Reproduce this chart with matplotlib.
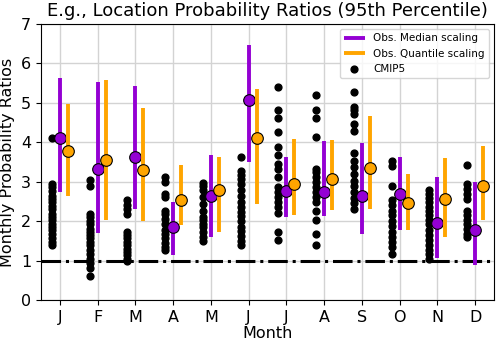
import numpy as np
import matplotlib
matplotlib.use('Agg')
import matplotlib.pyplot as plt

# month labels
months = ['J', 'F', 'M', 'A', 'M', 'J', 'J', 'A', 'S', 'O', 'N', 'D']

# CMIP5 model ratios, one list per month
cmip_jan = [4.12, 2.95, 2.86, 2.76, 2.65, 2.57, 2.48, 2.38, 2.30, 2.19, 2.10, 2.02, 1.94, 1.85, 1.77, 1.68, 1.56, 1.47, 1.39]
cmip_feb = [3.05, 2.90, 2.19, 2.11, 2.01, 1.92, 1.81, 1.73, 1.64, 1.56, 1.47, 1.39, 1.26, 1.16, 1.05, 0.93, 0.80, 0.62]
cmip_mar = [2.53, 2.42, 2.31, 2.19, 1.73, 1.64, 1.56, 1.47, 1.39, 1.30, 1.22, 1.14, 1.05, 1.00]
cmip_apr = [3.11, 3.00, 2.70, 2.61, 2.27, 2.17, 2.06, 1.94, 1.77, 1.67, 1.56, 1.45, 1.35, 1.26]
cmip_may = [2.98, 2.90, 2.78, 2.61, 2.44, 2.27, 2.11, 2.02, 1.94, 1.85, 1.73, 1.60, 1.50]
cmip_jun = [3.63, 3.28, 3.18, 3.07, 2.93, 2.79, 2.65, 2.48, 2.36, 2.23, 2.12, 2.00, 1.85, 1.74, 1.62, 1.50, 1.39]
cmip_jul = [5.41, 4.81, 4.61, 4.27, 3.89, 3.69, 3.45, 3.32, 3.11, 2.86, 2.73, 2.61, 2.48, 2.36, 2.21, 1.73, 1.53]
cmip_aug = [5.20, 4.82, 4.61, 4.14, 3.32, 3.24, 3.11, 2.99, 2.86, 2.73, 2.62, 2.48, 2.27, 2.02, 1.67, 1.39]
cmip_sep = [5.28, 4.90, 4.81, 4.71, 4.46, 4.29, 3.74, 3.53, 3.38, 3.20, 3.03, 2.90, 2.73, 2.59, 2.46, 2.31]
cmip_oct = [3.53, 3.41, 2.88, 2.53, 2.40, 2.27, 2.15, 2.00, 1.87, 1.72, 1.60, 1.47, 1.34, 1.16]
cmip_nov = [2.79, 2.69, 2.59, 2.48, 2.37, 2.27, 2.15, 2.02, 1.92, 1.78, 1.64, 1.51, 1.39, 1.28, 1.16, 1.05]
cmip_dec = [3.43, 2.93, 2.82, 2.69, 2.57, 2.27, 2.15, 2.03, 1.93, 1.81, 1.68, 1.60]
cmip_all = [cmip_jan, cmip_feb, cmip_mar, cmip_apr, cmip_may, cmip_jun,
            cmip_jul, cmip_aug, cmip_sep, cmip_oct, cmip_nov, cmip_dec]

# obs median scaling (center, low, high)
med_mid = [4.11, 3.33, 3.64, 1.84, 2.65, 5.08, 2.76, 2.74, 2.65, 2.69, 1.96, 1.77]
med_lo = [2.74, 1.70, 2.31, 1.14, 1.60, 3.51, 2.10, 2.12, 1.68, 1.78, 1.07, 0.88]
med_hi = [5.64, 5.52, 5.43, 2.48, 3.69, 6.46, 3.62, 4.04, 3.98, 3.64, 3.13, 3.00]

# obs quantile scaling (center, low, high)
qnt_mid = [3.79, 3.54, 3.30, 2.53, 2.78, 4.12, 2.94, 3.06, 3.36, 2.47, 2.57, 2.88]
qnt_lo = [2.65, 2.02, 2.00, 1.89, 1.72, 2.44, 2.15, 2.29, 2.30, 1.77, 1.60, 2.03]
qnt_hi = [4.97, 5.58, 4.88, 3.43, 3.64, 5.36, 4.08, 4.06, 4.66, 3.20, 3.59, 3.90]

x = np.arange(len(months))
off = 0.21

fig = plt.figure(figsize=(5, 3.44), dpi=100)
ax = fig.add_axes([0.082, 0.128, 0.906, 0.802])
ax.grid(True, color='#d3d3d3', linewidth=1)
ax.set_axisbelow(True)

# model dots
for i, vals in enumerate(cmip_all):
    ax.scatter(np.full(len(vals), x[i] - off), vals, s=24, color='black', zorder=3,
               label='CMIP5' if i == 0 else None)

ax.axhline(1, color='black', linestyle='-.', linewidth=2.2, zorder=2)

ax.vlines(x, med_lo, med_hi, color='darkviolet', linewidth=2.8, zorder=4, label='Obs. Median scaling')
ax.scatter(x, med_mid, s=70, color='darkviolet', edgecolor='black', linewidth=0.8, zorder=5)
ax.vlines(x + off, qnt_lo, qnt_hi, color='orange', linewidth=2.8, zorder=6, label='Obs. Quantile scaling')
ax.scatter(x + off, qnt_mid, s=70, color='orange', edgecolor='black', linewidth=0.8, zorder=7)

ax.set_xlim(-0.5, 11.5)
ax.set_ylim(0, 7)
ax.set_xticks(x)
ax.set_xticklabels(months)
ax.set_yticks(range(0, 8))
ax.tick_params(labelsize=11.5)
ax.set_xlabel('Month', fontsize=11.5, labelpad=1)
ax.set_ylabel('Monthly Probability Ratios', fontsize=11.5)
ax.set_title('E.g., Location Probability Ratios (95th Percentile)', fontsize=13)

h, l = ax.get_legend_handles_labels()
order = [l.index('Obs. Median scaling'), l.index('Obs. Quantile scaling'), l.index('CMIP5')]
ax.legend([h[k] for k in order], [l[k] for k in order], loc='upper right', fontsize=7.5)

fig.savefig('out.png', dpi=100)
